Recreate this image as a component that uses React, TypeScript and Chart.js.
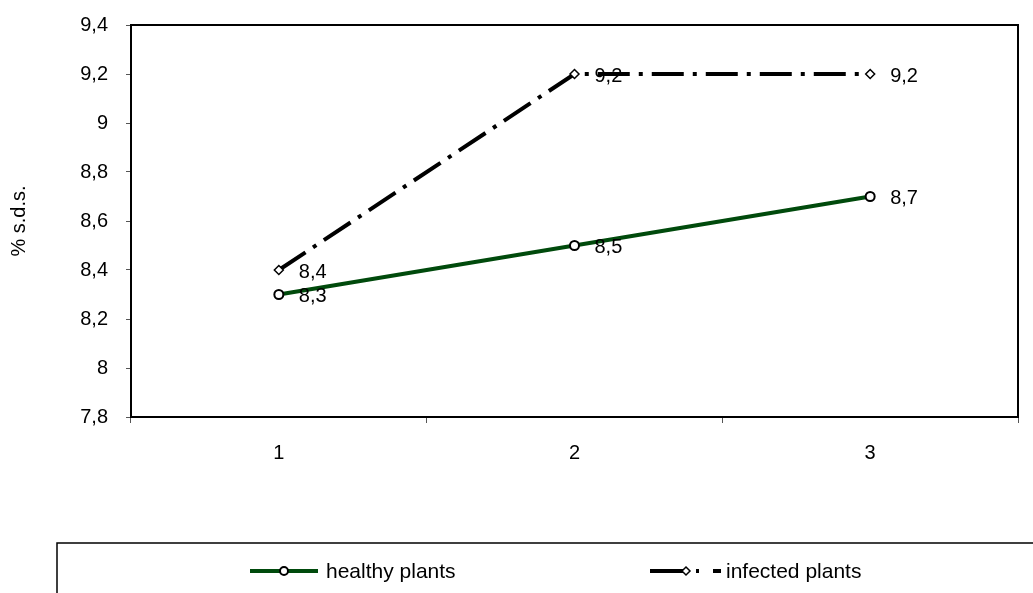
import React, { useEffect, useRef } from "react";
import { Chart, registerables } from "chart.js";

Chart.register(...registerables);

const categories = ["1", "2", "3"];
const healthyValues = [8.3, 8.5, 8.7];
const infectedValues = [8.4, 9.2, 9.2];
const seriesNames = ["healthy plants", "infected plants"];
const yAxisTitle = "% s.d.s.";
const yMin = 7.8;
const yMax = 9.4;
const yStep = 0.2;

const FONT = "'Liberation Sans', Arial, sans-serif";
const GREEN = "#004a0c";
const DASH = [32, 9, 4, 9];

const fmt = (v: number) => {
  const r = Math.round(v * 10) / 10;
  return String(r).replace(".", ",");
};

const extrasPlugin = {
  id: "extras",
  beforeDatasetsDraw(chart: any) {
    const { ctx, chartArea } = chart;
    ctx.save();
    ctx.strokeStyle = "#000";
    ctx.lineWidth = 2;
    ctx.strokeRect(chartArea.left, chartArea.top, chartArea.right - chartArea.left, chartArea.bottom - chartArea.top);
    ctx.restore();
  },
  afterDatasetsDraw(chart: any) {
    const { ctx } = chart;
    ctx.save();
    ctx.font = `20px ${FONT}`;
    ctx.fillStyle = "#000";
    ctx.textAlign = "left";
    ctx.textBaseline = "middle";
    chart.data.datasets.forEach((ds: any, i: number) => {
      const meta = chart.getDatasetMeta(i);
      meta.data.forEach((pt: any, j: number) => {
        ctx.fillText(fmt(ds.data[j]), pt.x + 20, pt.y + 2);
      });
    });
    ctx.restore();

    // legend box
    ctx.save();
    ctx.strokeStyle = "#000";
    ctx.lineWidth = 1.5;
    ctx.strokeRect(57, 543, 1100, 100);
    const ly = 571;
    // healthy
    ctx.strokeStyle = GREEN;
    ctx.lineWidth = 4;
    ctx.beginPath();
    ctx.moveTo(250, ly);
    ctx.lineTo(318, ly);
    ctx.stroke();
    ctx.fillStyle = "#fff";
    ctx.strokeStyle = "#000";
    ctx.lineWidth = 2;
    ctx.beginPath();
    ctx.arc(284, ly, 4, 0, Math.PI * 2);
    ctx.fill();
    ctx.stroke();
    // infected
    ctx.strokeStyle = "#000";
    ctx.lineWidth = 4;
    ctx.beginPath();
    ctx.moveTo(650, ly);
    ctx.lineTo(683, ly);
    ctx.moveTo(696, ly);
    ctx.lineTo(699, ly);
    ctx.moveTo(713, ly);
    ctx.lineTo(721, ly);
    ctx.stroke();
    ctx.lineWidth = 1.5;
    ctx.fillStyle = "#fff";
    ctx.beginPath();
    ctx.moveTo(686, ly - 4);
    ctx.lineTo(690, ly);
    ctx.lineTo(686, ly + 4);
    ctx.lineTo(682, ly);
    ctx.closePath();
    ctx.fill();
    ctx.stroke();
    ctx.font = `21px ${FONT}`;
    ctx.fillStyle = "#000";
    ctx.textBaseline = "middle";
    ctx.textAlign = "left";
    ctx.fillText(seriesNames[0], 326, ly + 1);
    ctx.fillText(seriesNames[1], 726, ly + 1);
    ctx.restore();
  },
};

export default function App() {
  const ref = useRef<HTMLCanvasElement | null>(null);
  useEffect(() => {
    if (!ref.current) return;
    const chart = new Chart(ref.current, {
      type: "line",
      data: {
        labels: categories,
        datasets: [
          {
            label: seriesNames[0],
            data: healthyValues,
            borderColor: GREEN,
            borderWidth: 4,
            pointStyle: "circle",
            pointRadius: 4.5,
            pointBorderWidth: 2,
            pointBackgroundColor: "#fff",
            pointBorderColor: "#000",
            tension: 0,
          },
          {
            label: seriesNames[1],
            data: infectedValues,
            borderColor: "#000",
            borderWidth: 4,
            borderDash: DASH,
            pointStyle: "rectRot",
            pointRadius: 4.5,
            pointBorderWidth: 1.5,
            pointBackgroundColor: "#fff",
            pointBorderColor: "#000",
            tension: 0,
          },
        ],
      },
      options: {
        responsive: false,
        animation: false,
        layout: { padding: { top: 25, right: 15, bottom: 116, left: 0 } },
        plugins: {
          legend: { display: false },
          tooltip: { enabled: false },
        },
        scales: {
          x: {
            type: "category",
            offset: true,
            afterFit: (s: any) => {
              s.height = 60;
            },
            grid: {
              offset: true,
              drawOnChartArea: false,
              drawTicks: true,
              tickLength: 6,
              color: "#555",
            },
            border: { display: false },
            ticks: {
              color: "#000",
              font: { family: FONT, size: 20 },
              padding: 18,
              maxRotation: 0,
            },
          },
          y: {
            type: "linear",
            min: yMin,
            max: yMax,
            afterFit: (s: any) => {
              s.width = 131;
              s.paddingTop = 0;
              s.paddingBottom = 0;
            },
            grid: {
              drawOnChartArea: false,
              drawTicks: true,
              tickLength: 5,
              color: "#555",
            },
            border: { display: false },
            ticks: {
              stepSize: yStep,
              color: "#000",
              font: { family: FONT, size: 20 },
              padding: 18,
              callback: (v: any) => fmt(Number(v)),
            },
            title: {
              display: true,
              text: yAxisTitle,
              color: "#000",
              font: { family: FONT, size: 20 },
              padding: { top: 7, bottom: 0 },
            },
          },
        },
      },
      plugins: [extrasPlugin],
    });
    return () => chart.destroy();
  }, []);
  return (
    <div style={{ position: "fixed", left: 0, top: 0, width: 1033, height: 593, background: "#fff" }}>
      <canvas ref={ref} width={1033} height={593} style={{ display: "block" }} />
    </div>
  );
}
